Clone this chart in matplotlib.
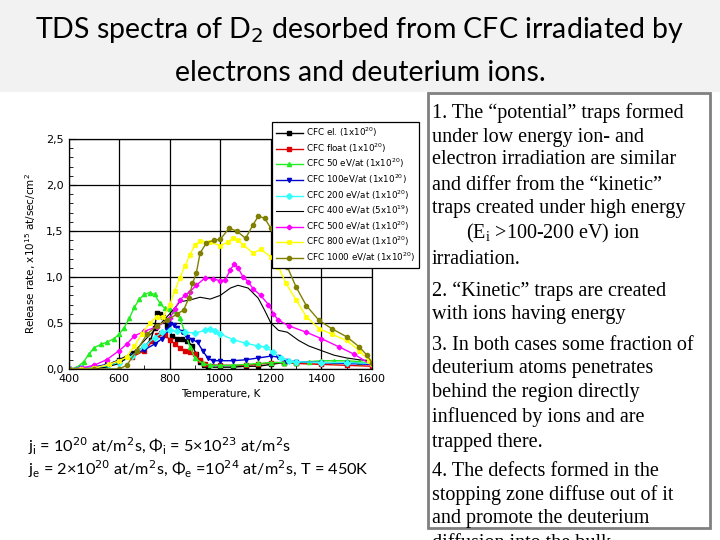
import matplotlib
matplotlib.use("Agg")
import matplotlib.pyplot as plt
from matplotlib.patches import Rectangle

# ---------------- data ----------------
t_el = [400,450,500,550,600,650,700,725,740,750,760,775,790,810,830,850,870,890,905,920,935,950,1000,1050,1100,1150,1200,1250,1300,1400,1500,1600]
y_el = [0,0.01,0.01,0.04,0.10,0.17,0.24,0.32,0.45,0.61,0.60,0.57,0.47,0.36,0.33,0.33,0.30,0.25,0.16,0.08,0.04,0.02,0.02,0.02,0.03,0.03,0.05,0.07,0.07,0.07,0.07,0.06]

t_float = [400,450,500,550,600,650,700,730,750,765,780,800,820,840,860,880,900,920,940,1000,1100,1150,1200,1250,1300,1400,1500,1600]
y_float = [0,0.01,0.02,0.04,0.08,0.13,0.2,0.3,0.37,0.39,0.37,0.32,0.27,0.23,0.20,0.18,0.16,0.1,0.05,0.04,0.04,0.05,0.07,0.07,0.06,0.05,0.04,0.03]

t_50 = [400,430,460,480,500,530,550,580,600,620,640,660,680,700,720,740,760,780,800,820,840,860,880,900,930,960,1000,1050,1100,1150,1200,1250,1300,1350,1400,1450,1500,1550,1600]
y_50 = [0,0.01,0.08,0.16,0.23,0.27,0.29,0.33,0.38,0.45,0.55,0.67,0.76,0.81,0.83,0.81,0.72,0.66,0.65,0.63,0.55,0.40,0.24,0.12,0.06,0.04,0.04,0.04,0.05,0.06,0.07,0.07,0.07,0.08,0.09,0.09,0.09,0.08,0.06]

t_100 = [400,450,500,550,600,650,700,740,770,790,800,815,830,850,870,890,910,930,950,970,1000,1050,1100,1150,1200,1230,1260,1300,1400,1500,1600]
y_100 = [0,0.01,0.02,0.05,0.09,0.15,0.21,0.27,0.33,0.42,0.49,0.48,0.45,0.40,0.35,0.32,0.29,0.2,0.12,0.09,0.09,0.09,0.10,0.12,0.14,0.13,0.09,0.08,0.07,0.06,0.05]

t_200 = [400,450,500,550,600,650,700,740,770,800,830,860,900,940,960,980,1000,1050,1100,1150,1180,1210,1240,1270,1300,1400,1500,1600]
y_200 = [0,0.01,0.01,0.03,0.07,0.14,0.25,0.34,0.40,0.42,0.41,0.40,0.39,0.42,0.43,0.41,0.38,0.32,0.28,0.25,0.24,0.18,0.12,0.09,0.08,0.07,0.07,0.06]

t_400 = [400,500,550,600,650,700,750,800,840,880,920,960,1000,1040,1070,1110,1150,1175,1200,1230,1265,1310,1350,1400,1450,1500,1550,1600]
y_400 = [0,0.0,0.02,0.06,0.16,0.31,0.45,0.60,0.73,0.75,0.78,0.76,0.80,0.88,0.91,0.88,0.77,0.64,0.50,0.42,0.40,0.31,0.25,0.2,0.15,0.12,0.10,0.09]

t_500 = [400,450,500,550,600,630,660,700,750,800,820,840,860,880,905,940,970,1000,1020,1040,1055,1070,1090,1110,1130,1160,1190,1210,1230,1270,1340,1400,1470,1530,1600]
y_500 = [0,0.01,0.04,0.1,0.2,0.27,0.36,0.41,0.46,0.55,0.65,0.75,0.80,0.84,0.91,0.99,0.98,0.96,0.97,1.08,1.14,1.10,1.0,0.95,0.87,0.80,0.70,0.60,0.53,0.47,0.40,0.33,0.24,0.16,0.04]

t_800 = [400,450,500,560,600,630,660,690,720,750,775,800,820,840,860,880,900,920,960,1000,1030,1050,1070,1090,1130,1160,1200,1230,1260,1300,1340,1390,1440,1500,1550,1590,1600]
y_800 = [0,0.0,0.01,0.05,0.09,0.13,0.25,0.38,0.5,0.57,0.57,0.7,0.85,0.99,1.12,1.24,1.35,1.39,1.38,1.34,1.38,1.42,1.40,1.35,1.26,1.30,1.22,1.11,0.93,0.75,0.57,0.44,0.38,0.31,0.2,0.09,0.05]

t_1000 = [400,500,600,630,670,710,750,790,830,855,875,890,905,920,945,975,1000,1035,1065,1100,1130,1150,1175,1200,1235,1265,1300,1340,1390,1440,1500,1550,1580,1600]
y_1000 = [0,0,0.0,0.04,0.2,0.38,0.47,0.53,0.6,0.64,0.77,0.93,1.04,1.26,1.37,1.40,1.41,1.53,1.50,1.42,1.57,1.66,1.64,1.53,1.33,1.11,0.89,0.69,0.53,0.44,0.35,0.24,0.15,0.07]

labels = ["CFC el. (1x10$^{20}$)", "CFC float (1x10$^{20}$)", "CFC 50 eV/at (1x10$^{20}$)",
          "CFC 100eV/at (1x10$^{20}$)", "CFC 200 eV/at (1x10$^{20}$)", "CFC 400 eV/at (5x10$^{19}$)",
          "CFC 500 eV/at (1x10$^{20}$)", "CFC 800 eV/at (1x10$^{20}$)", "CFC 1000 eV/at (1x10$^{20}$)"]

x_ticks = [400, 600, 800, 1000, 1200, 1400, 1600]
y_ticks = [0.0, 0.5, 1.0, 1.5, 2.0, 2.5]
y_ticklabels = ["0,0", "0,5", "1,0", "1,5", "2,0", "2,5"]

# ---------------- figure ----------------
fig = plt.figure(figsize=(7.2, 5.4), dpi=100)
fig.patches.append(Rectangle((0, 1 - 92/540), 1, 92/540, transform=fig.transFigure,
                             facecolor="#f2f2f2", edgecolor="none", zorder=0))
fig.text(0.5, 1 - 30/540, "TDS spectra of D$_2$ desorbed from CFC irradiated by",
         ha="center", va="center", fontsize=20.5, family="Lato", color="black")
fig.text(0.5, 1 - 73/540, "electrons and deuterium ions.",
         ha="center", va="center", fontsize=20.5, family="Lato", color="black")

ax = fig.add_axes([68.6/720, 1 - 369/540, (372 - 68.6)/720, (369 - 139)/540])
series = [
    (t_el, y_el, "black", "s"),
    (t_float, y_float, "#dd0000", "s"),
    (t_50, y_50, "#22ee22", "^"),
    (t_100, y_100, "#0000cc", "v"),
    (t_200, y_200, "#33ffff", "D"),
    (t_400, y_400, "black", None),
    (t_500, y_500, "#ff00ff", "P"),
    (t_800, y_800, "#ffff00", "X"),
    (t_1000, y_1000, "#808000", "o"),
]
for (t, y, c, m), lab in zip(series, labels):
    ax.plot(t, y, color=c, marker=m, markersize=3, lw=1.0 if m else 0.8, label=lab)

ax.set_xlim(400, 1600)
ax.set_ylim(0, 2.5)
ax.set_xticks(x_ticks)
ax.set_yticks(y_ticks)
ax.set_yticklabels(y_ticklabels)
ax.set_xticks(range(400, 1601, 100), minor=True)
ax.set_yticks([i/10 for i in range(26)], minor=True)
ax.tick_params(which="both", direction="in", labelsize=8)
ax.tick_params(which="major", length=5)
ax.tick_params(which="minor", length=3)
ax.grid(True, which="major", color="black", lw=0.9)
for s in ax.spines.values():
    s.set_linewidth(0.9)
ax.set_xlabel("Temperature, K", fontsize=7.5)
ax.set_ylabel("Release rate, x10$^{15}$ at/sec/cm$^{2}$", fontsize=7.5, labelpad=6)

leg = ax.legend(loc="upper left", bbox_to_anchor=(0.67, 1.074), borderaxespad=0,
                fontsize=6.3, frameon=True, fancybox=False, edgecolor="black",
                framealpha=1, handlelength=3.1, handletextpad=0.3, labelspacing=0.25,
                borderpad=0.45)
leg.get_frame().set_linewidth(0.9)

# bottom text
fig.text(28/720, 1 - 446/540, "j$_\\mathregular{i}$ = 10$^{20}$ at/m$^2$s, Φ$_\\mathregular{i}$ = 5×10$^{23}$ at/m$^2$s",
         ha="left", va="center", fontsize=11.7, family="Lato")
fig.text(28/720, 1 - 469/540, "j$_\\mathregular{e}$ = 2×10$^{20}$ at/m$^2$s, Φ$_\\mathregular{e}$ =10$^{24}$ at/m$^2$s, T = 450K",
         ha="left", va="center", fontsize=11.7, family="Lato")

# right text box
fig.patches.append(Rectangle((428/720, 1 - 528/540), (710 - 428)/720, (528 - 93)/540,
                             transform=fig.transFigure, facecolor="white",
                             edgecolor="#808080", lw=2, zorder=1))
lines = [
    (432, 113, "1. The “potential” traps formed"),
    (432, 137, "under low energy ion- and"),
    (432, 160, "electron irradiation are similar"),
    (432, 185, "and differ from the “kinetic”"),
    (432, 208, "traps created under high energy"),
    (466, 233, "(E$_\\mathregular{i}$ >100-200 eV) ion"),
    (432, 260, "irradiation."),
    (432, 291, "2. “Kinetic” traps are created"),
    (432, 315, "with ions having energy"),
    (432, 345, "3. In both cases some fraction of"),
    (432, 368, "deuterium atoms penetrates"),
    (432, 393, "behind the region directly"),
    (432, 417, "influenced by ions and are"),
    (432, 442, "trapped there."),
    (432, 472, "4. The defects formed in the"),
    (432, 495, "stopping zone diffuse out of it"),
    (432, 518, "and promote the deuterium"),
    (432, 543, "diffusion into the bulk."),
]
for x, y, s in lines:
    fig.text(x/720, 1 - y/540, s, ha="left", va="center", fontsize=14.5,
             family="Liberation Serif", zorder=3)

fig.savefig("out.png", dpi=100)
